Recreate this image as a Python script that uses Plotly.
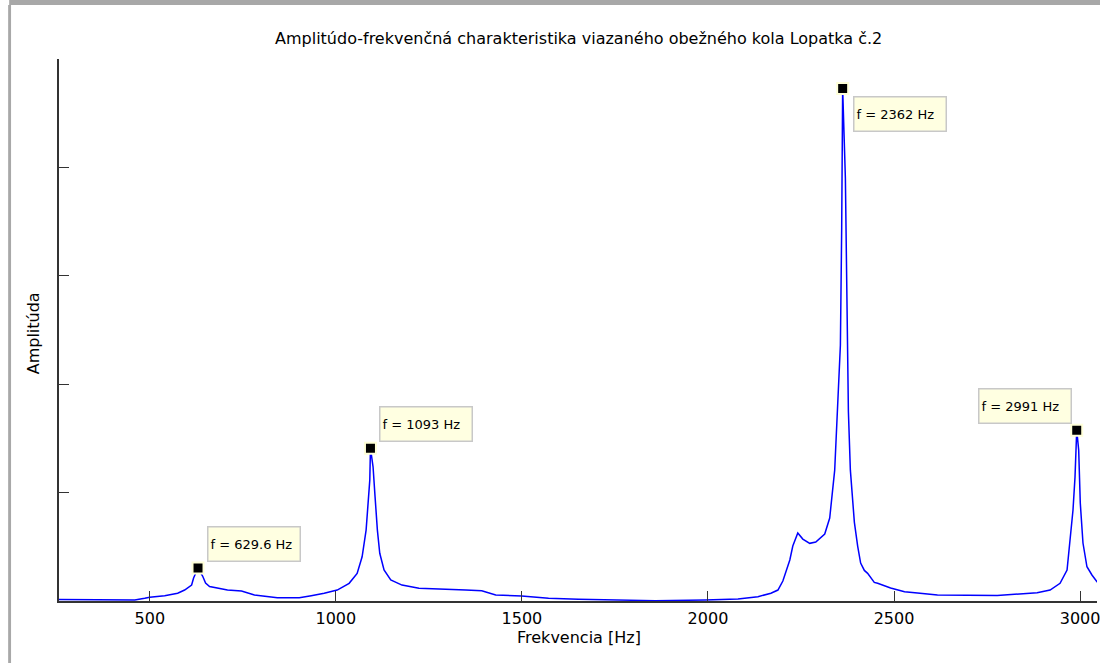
import plotly.graph_objects as go

# Frequency [Hz] and amplitude (arbitrary units, y tick step = 1)
freq = [256, 285.5, 339, 459.6, 486.4, 499.8, 540, 574.9, 593.6, 612.4, 617.7, 629.6,
        641.9, 649.9, 660.6, 682, 708.8, 746.4, 781.2, 842.8, 901.8, 933.9, 968.7,
        1003.6, 1035.7, 1057.2, 1070.6, 1081.3, 1086.7, 1091.2, 1093, 1100, 1105.4,
        1111.6, 1118, 1129.5, 1147.5, 1177.7, 1223.3, 1311.7, 1349.2, 1392.1, 1429.6,
        1499.3, 1571.6, 1652, 1858.4, 1992.3, 2080.7, 2134.3, 2169.2, 2188, 2201.3,
        2220, 2228, 2241.4, 2254.9, 2273.6, 2289.7, 2313.8, 2327.2, 2340.6, 2348.7,
        2355.9, 2359.4, 2362, 2369.3, 2373.6, 2377.4, 2382.7, 2393.4, 2402.3, 2410.3,
        2420.3, 2429.1, 2447, 2456, 2490.8, 2528.3, 2563.1, 2616.7, 2777.4, 2849.8,
        2884.6, 2919.4, 2946.2, 2965, 2973, 2981, 2986.4, 2991, 2996.3, 3000.6, 3007.8,
        3018.5, 3031.9, 3045.4, 3060]
amp = [0.014, 0.014, 0.009, 0.009, 0.025, 0.034, 0.049, 0.071, 0.101, 0.147, 0.212, 0.304,
       0.230, 0.166, 0.134, 0.117, 0.101, 0.092, 0.055, 0.030, 0.030, 0.049, 0.071,
       0.101, 0.163, 0.255, 0.408, 0.654, 0.869, 1.115, 1.410, 1.238, 0.961,
       0.654, 0.440, 0.286, 0.194, 0.147, 0.117, 0.101, 0.101, 0.095, 0.055,
       0.046, 0.025, 0.016, 0.003, 0.009, 0.018, 0.040, 0.071, 0.101, 0.184,
       0.378, 0.507, 0.627, 0.571, 0.532, 0.544, 0.618, 0.765, 1.207, 1.788,
       2.359, 3.447, 4.728, 3.899, 2.525, 1.751, 1.207, 0.728, 0.507, 0.350,
       0.282, 0.255, 0.171, 0.163, 0.120, 0.086, 0.074, 0.055, 0.051, 0.071,
       0.076, 0.101, 0.163, 0.286, 0.535, 0.839, 1.143, 1.576, 1.392, 0.903, 0.535,
       0.316, 0.240, 0.178, 0.140]

peak_freq = [629.6, 1093, 2362, 2991]
peak_amp = [0.304, 1.410, 4.728, 1.576]
peak_labels = ["f = 629.6 Hz", "f = 1093 Hz", "f = 2362 Hz", "f = 2991 Hz"]
# label placement relative to marker: (xanchor, yanchor, xshift, yshift)
label_place = [("left", "bottom", 9, 6), ("left", "bottom", 9, 6),
               ("left", "top", 10, -8), ("right", "bottom", -5, 6)]

x_ticks = [500, 1000, 1500, 2000, 2500, 3000]
y_ticks = [0, 1, 2, 3, 4, 5]

FONT = "DejaVu Sans, Arial, sans-serif"

fig = go.Figure()
fig.add_trace(go.Scatter(x=freq, y=amp, mode="lines",
                         line=dict(color="#0000ff", width=1.5), hoverinfo="skip"))
fig.add_trace(go.Scatter(x=peak_freq, y=peak_amp, mode="markers",
                         marker=dict(symbol="square", size=11, color="black",
                                     line=dict(color="#ffffd8", width=2)),
                         hoverinfo="skip"))

for f, a, t, (xa, ya, xs, ys) in zip(peak_freq, peak_amp, peak_labels, label_place):
    fig.add_annotation(x=f, y=a, xref="x", yref="y", text=t, showarrow=False,
                       xanchor=xa, yanchor=ya, xshift=xs, yshift=ys,
                       align="left", width=87, height=29,
                       font=dict(family=FONT, size=13, color="black"),
                       bgcolor="#ffffe1", bordercolor="#c8c8c8", borderwidth=1.5,
                       borderpad=2)

# titles
fig.add_annotation(text="Amplitúdo-frekvenčná charakteristika viazaného obežného kola Lopatka č.2",
                   xref="paper", yref="paper", x=0.5005, y=1.0387, showarrow=False,
                   xanchor="center", yanchor="middle",
                   font=dict(family=FONT, size=16, color="black"))
fig.add_annotation(text="Frekvencia [Hz]", xref="paper", yref="paper", x=0.5005, y=-0.068,
                   showarrow=False, xanchor="center", yanchor="middle",
                   font=dict(family=FONT, size=16, color="black"))
fig.add_annotation(text="Amplitúda", xref="paper", yref="paper", x=-0.025, y=0.494,
                   showarrow=False, xanchor="center", yanchor="middle", textangle=-90,
                   font=dict(family=FONT, size=16, color="black"))

# window frame (gray border at top and left)
fig.add_shape(type="rect", xref="paper", yref="paper", x0=-0.048, x1=1.01, y0=1.0996, y1=1.12,
              fillcolor="#a8a8a8", line=dict(width=0), layer="above")
fig.add_shape(type="rect", xref="paper", yref="paper", x0=-0.0490, x1=-0.0462, y0=-0.2, y1=1.0996,
              fillcolor="#a8a8a8", line=dict(width=0), layer="above")

fig.update_layout(
    width=1100, height=663,
    margin=dict(l=59, r=0, t=59, b=62),
    paper_bgcolor="white", plot_bgcolor="white",
    showlegend=False,
    font=dict(family=FONT, size=16, color="black"),
)
fig.update_xaxes(range=[256, 3045.5], tickvals=x_ticks, ticks="inside", ticklen=10,
                 tickcolor="#333333", showline=True, linecolor="#333333", linewidth=1.5,
                 showgrid=False, zeroline=False, mirror=False,
                 ticklabeloverflow="allow", ticklabelstandoff=2,
                 tickfont=dict(family=FONT, size=16, color="black"))
fig.update_yaxes(range=[0, 5], tickvals=y_ticks, ticks="inside", ticklen=10,
                 tickcolor="#333333", showline=True, linecolor="#333333", linewidth=1.5,
                 showgrid=False, zeroline=False, mirror=False, showticklabels=False)

fig.write_html("out.html", config={"displayModeBar": False},
               post_script="document.body.style.margin='0';document.body.style.overflow='hidden';")
